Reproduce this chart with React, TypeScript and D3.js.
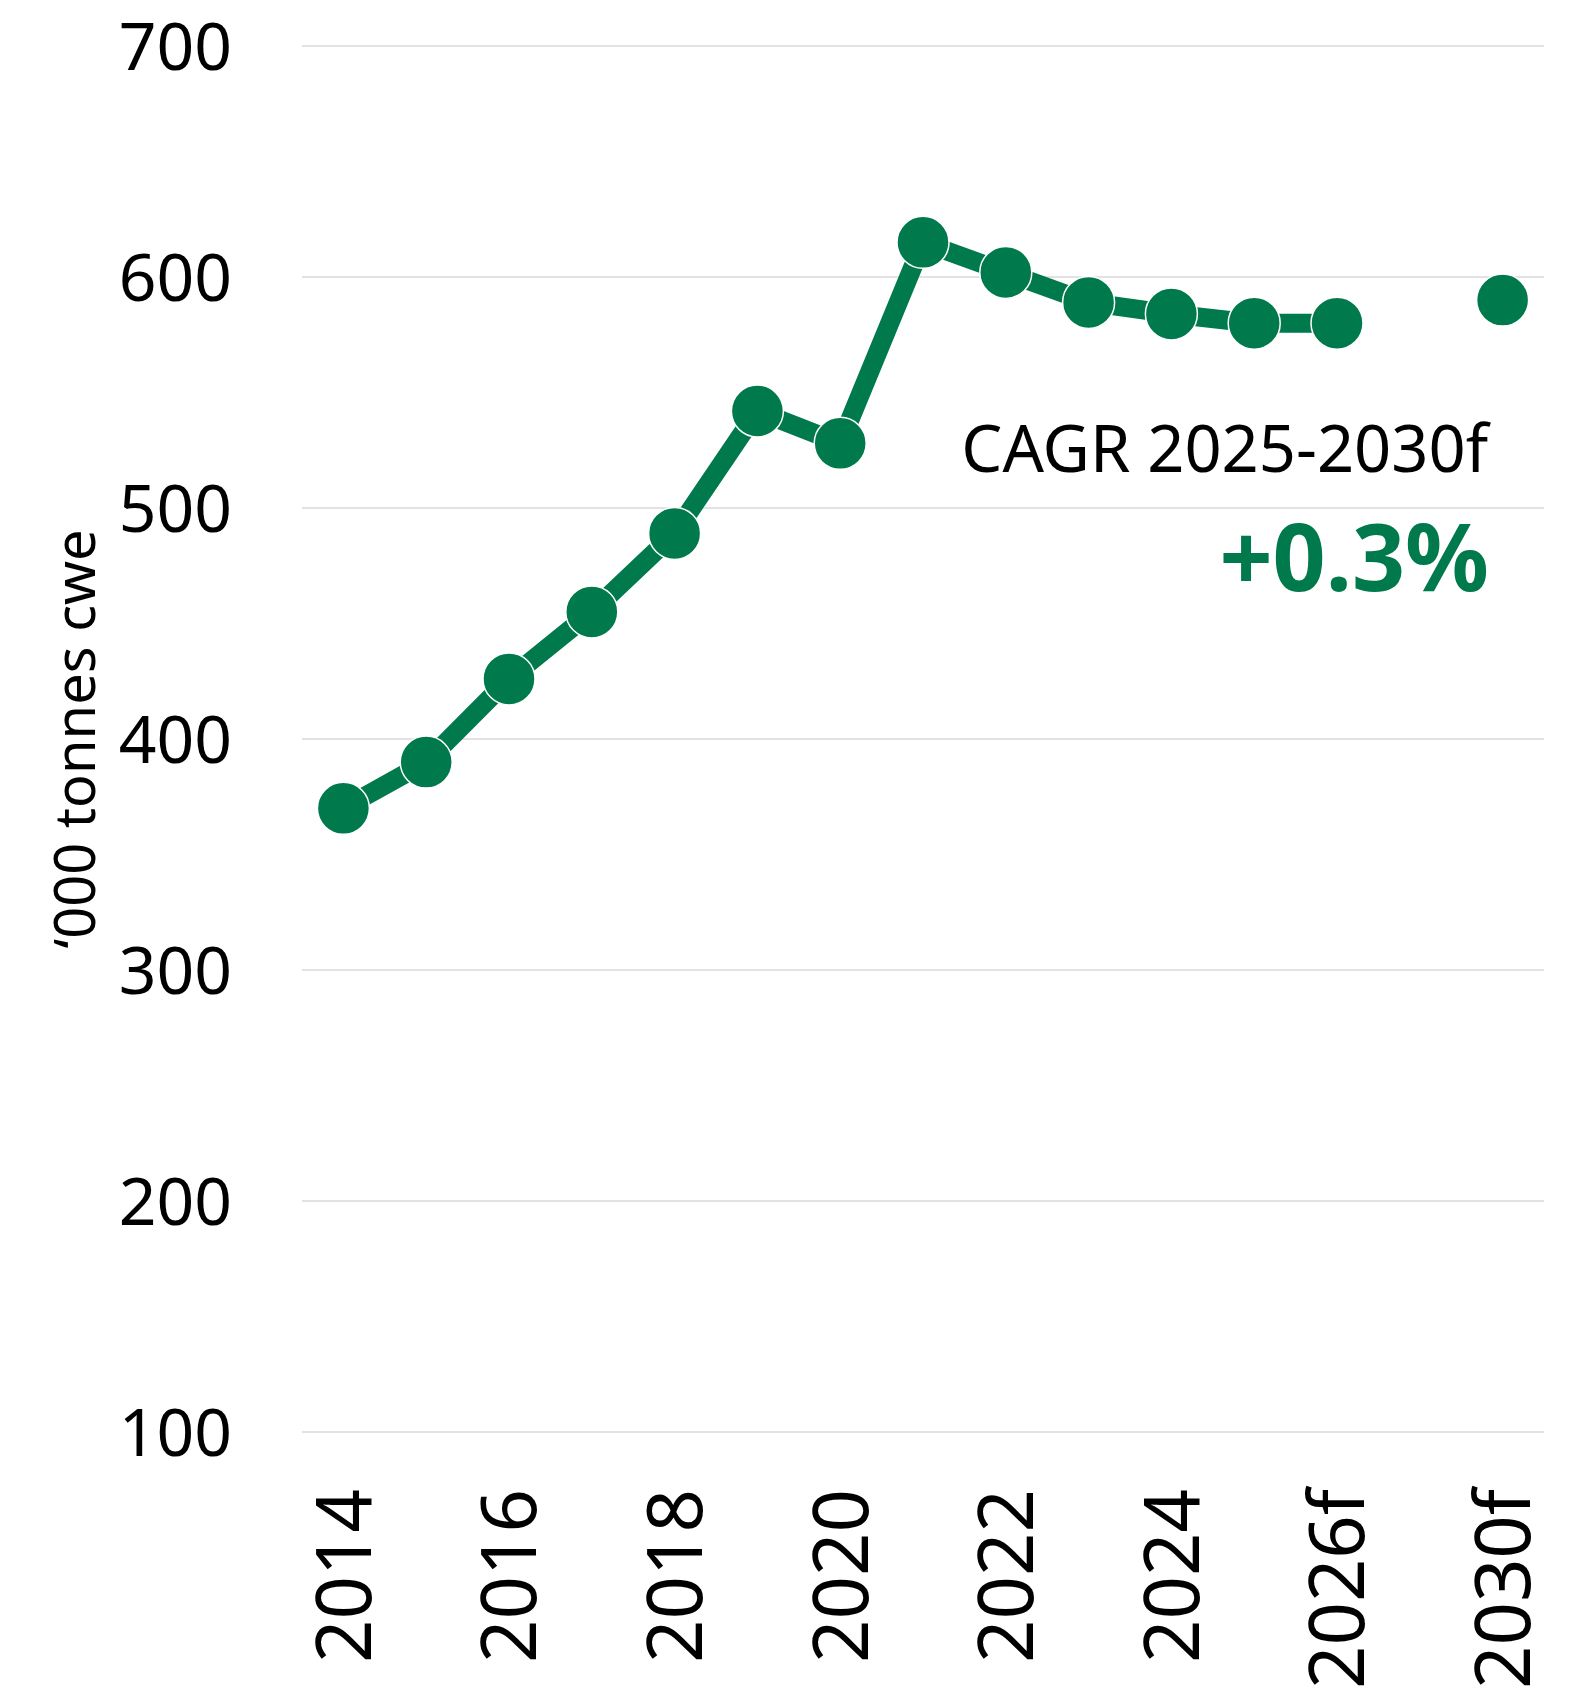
import React from "react";
import * as d3 from "d3";

const categories = ["2014","2015","2016","2017","2018","2019","2020","2021","2022","2023","2024","2025","2026f","","2030f"];
const shownLabels = ["2014","2016","2018","2020","2022","2024","2026f","2030f"];
const values: (number | null)[] = [370, 390, 426, 455, 489, 542, 528, 615, 602, 589, 584, 580, 580, null, 590];
const yTicks = [100, 200, 300, 400, 500, 600, 700];
const yTitle = "\u2018000 tonnes cwe";
const cagrLabel = "CAGR 2025-2030f";
const cagrValue = "+0.3%";

const W = 1574;
const H = 1707;
const GREEN = "#007A4D";
const FONT = "'Noto Sans', 'Open Sans', sans-serif";

export default function App() {
  const x = d3.scaleBand<string>().domain(categories.map((c, i) => c || `gap${i}`)).range([302, 1544]);
  const y = d3.scaleLinear().domain([100, 700]).range([1432, 46]);
  const key = (i: number) => categories[i] || `gap${i}`;
  const cx = (i: number) => (x(key(i)) as number) + x.bandwidth() / 2;

  const pts = values.map((v, i) => ({ i, v }));
  const line = d3
    .line<{ i: number; v: number | null }>()
    .defined((d) => d.v !== null && categories[d.i] !== "2030f")
    .x((d) => cx(d.i))
    .y((d) => y(d.v as number));

  return (
    <svg
      width={W}
      height={H}
      style={{ position: "absolute", left: 0, top: 0, background: "#fff" }}
      fontFamily={FONT}
    >
      {yTicks.map((t) => (
        <g key={t}>
          <line x1={302} x2={1544} y1={y(t)} y2={y(t)} stroke="#D9D9D9" strokeWidth={1.6} />
          <text x={232} y={y(t)} dy="0.36em" textAnchor="end" fontSize={66} fill="#000">
            {t}
          </text>
        </g>
      ))}

      <text
        transform={`translate(95, 739) rotate(-90)`}
        textAnchor="middle"
        fontSize={56}
        fill="#000"
      >
        {yTitle}
      </text>

      {categories.map((c, i) =>
        shownLabels.includes(c) ? (
          <text
            key={c}
            transform={`translate(${cx(i)}, 1489) rotate(-90)`}
            dy="0.36em"
            textAnchor="end"
            fontSize={76}
            fill="#000"
          >
            {c}
          </text>
        ) : null
      )}

      <path d={line(pts) || ""} fill="none" stroke={GREEN} strokeWidth={19} strokeLinejoin="round" />

      {pts
        .filter((d) => d.v !== null)
        .map((d) => (
          <circle
            key={d.i}
            cx={cx(d.i)}
            cy={y(d.v as number)}
            r={26}
            fill={GREEN}
            stroke="#fff"
            strokeWidth={1.5}
          />
        ))}

      <text x={1488} y={472} textAnchor="end" fontSize={65} fill="#000">
        {cagrLabel}
      </text>
      <text x={1489} y={591} textAnchor="end" fontSize={93} fontWeight="bold" fill={GREEN}>
        {cagrValue}
      </text>
    </svg>
  );
}
